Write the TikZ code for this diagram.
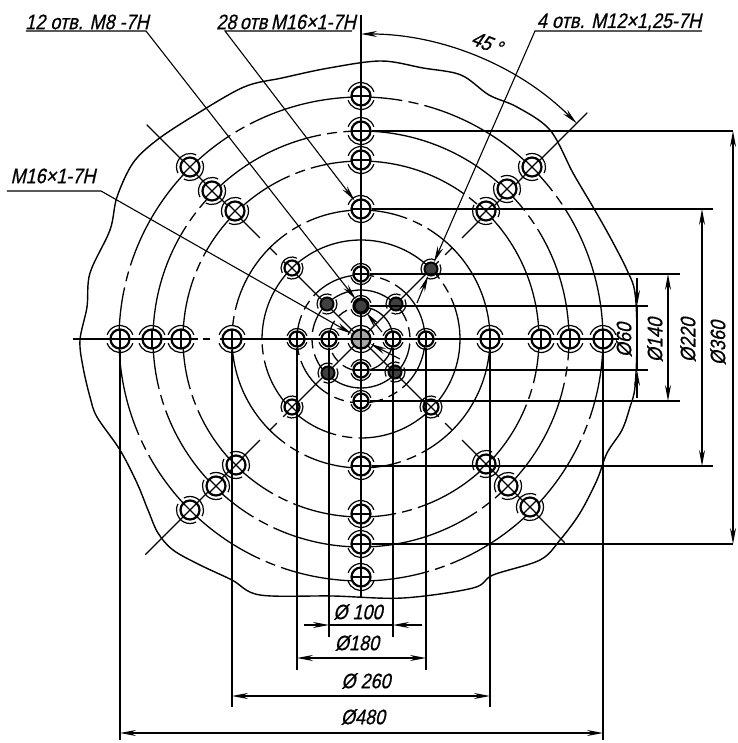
\documentclass[tikz,border=0pt]{standalone}
\usepackage{fontspec}
\newfontfamily\draftfont{Liberation Sans}[FakeSlant=0.22,FakeStretch=0.86,FakeBold=0.6]
\usetikzlibrary{arrows.meta}
\newcommand{\outerring}[3]{%
    \draw[outer-arc] ([shift={(#3+18:#2)}]#1.center) arc[start angle=#3+18,end angle=#3+162,radius=#2];
    \draw[outer-arc] ([shift={(#3+198:#2)}]#1.center) arc[start angle=#3+198,end angle=#3+342,radius=#2];
}
\newcommand{\drawring}[3]{%
    \pgfmathsetmacro{\gapw}{650/#1}
    \pgfmathsetmacro{\dashw}{290/#1}
    \foreach \dashat [remember=\dashat as \prevat (initially #2)] in {#3} {
        \draw[ring-line] (\prevat+\gapw:#1) arc[start angle=\prevat+\gapw,end angle=\dashat-\gapw,radius=#1];
        \draw[ring-line] (\dashat-\dashw:#1) arc[start angle=\dashat-\dashw,end angle=\dashat+\dashw,radius=#1];
    }
}
\begin{document}
\begin{tikzpicture}[
            x=1pt,y=1pt,
            ring-line/.style={line width=1.3pt},
            thin-line/.style={line width=1.2pt},
            outer-arc/.style={line width=1.2pt},
            dim-line/.style={line width=1.2pt,{Stealth[length=16pt,width=6pt]}-{Stealth[length=16pt,width=6pt]}},
            arrow-line/.style={line width=1.1pt,-{Stealth[length=16pt,width=6pt]}},
            dim-label/.style={font=\draftfont\fontsize{21}{21}\selectfont,inner sep=0pt},
            big-hole/.style={circle,draw,line width=2.2pt,fill=white,minimum size=19pt,inner sep=0pt},
            mid-hole/.style={circle,draw,line width=2.2pt,fill=white,minimum size=15pt,inner sep=0pt},
            dark-hole/.style={circle,draw,line width=2pt,fill=black!75,minimum size=13pt,inner sep=0pt},
            plus-mark/.style={path picture={\draw[line width=1.3pt] (path picture bounding box.north) -- (path picture bounding box.south) (path picture bounding box.west) -- (path picture bounding box.east);}},
            cross-mark/.style={path picture={\draw[line width=1.3pt] (path picture bounding box.north west) -- (path picture bounding box.south east) (path picture bounding box.south west) -- (path picture bounding box.north east);}},
        ]
            \useasboundingbox (-361,-404) rectangle (376,339);

            \draw[line width=1.4pt] plot[smooth cycle,tension=.55] coordinates {
                (20,278) (62,271) (100,264) (128,244) (156,232) (189,209) (212,166) (232,132)
                (249,102) (266,69) (274,46) (276,0) (274,-48) (269,-68) (261,-91) (246,-114)
                (236,-141) (219,-174) (199,-201) (179,-221) (132,-236) (112,-249) (42,-259)
                (-28,-257) (-101,-256) (-129,-241) (-161,-226) (-188,-211) (-203,-194) (-213,-171)
                (-224,-144) (-241,-111) (-264,-78) (-271,-58) (-278,-28) (-281,-1) (-274,32)
                (-271,66) (-251,109) (-244,142) (-228,176) (-204,199) (-166,224) (-117,252)
                (-79,261) (-32,271)};

            \drawring{242}{35}{77.5,120,165,206,248,289,338,395}
            \drawring{208}{35}{98,144,197,242,307,351,395}
            \drawring{178}{51}{110,156,200,244,285,342,411}
            \drawring{129}{64}{120,172,239,293,424}
            \drawring{99}{31}{186,262,391}
            \drawring{64}{68}{148,190,250,300,428}
            \drawring{49}{8}{185,368}
            \drawring{32}{125}{215,485}

            \coordinate (axis-top) at (0,324);
            \coordinate (axis-bottom) at (0,-259);
            \coordinate (axis-left) at (-288,0);
            \coordinate (axis-gap-a) at (-163,0);
            \coordinate (axis-gap-b) at (-158,0);
            \coordinate (axis-gap-c) at (-151,0);
            \coordinate (axis-gap-d) at (-141,0);
            \coordinate (axis-right) at (258,0);
            \draw[thin-line] (axis-top) -- (axis-bottom);
            \draw[thin-line] (axis-left) -- (axis-gap-a) (axis-gap-b) -- (axis-gap-c) (axis-gap-d) -- (axis-right);

            \foreach \diagname/\diagangle/\diagend in {ne/45/320,nw/135/303,sw/225/305,se/315/288} {
                \coordinate (\diagname-a) at (\diagangle:110);
                \coordinate (\diagname-b) at (\diagangle:119);
                \coordinate (\diagname-c) at (\diagangle:129);
                \coordinate (\diagname-d) at (\diagangle:143);
                \coordinate (\diagname-e) at (\diagangle:\diagend);
                \draw[thin-line] (0,0) -- (\diagname-a) (\diagname-b) -- (\diagname-c) (\diagname-d) -- (\diagname-e);
            }

            \foreach \hname/\hx/\hy in {v1/0/243,v2/0/208,v3/0/179,v4/0/130,v9/0/-127,v10/0/-175,v11/0/-205,v12/0/-238,
                    h1/-241/0,h2/-209/0,h3/-180/0,h4/-129/0,h9/129/0,h10/180/0,h11/209/0,h12/242/0} {
                \node[big-hole,plus-mark] (\hname) at (\hx,\hy) {};
                \outerring{\hname}{13.5}{0}
            }
            \foreach \hname/\hx/\hy/\hrot in {d1/-171/172/45,d2/-149/148/45,d3/-126/128/45,d4/125/128/-45,d5/146/150/-45,d6/171/172/-45,
                    d7/-125/-126/-45,d8/-145/-147/-45,d9/-171/-171/-45,d10/125/-125/45,d11/147/-147/45,d12/169/-168/45} {
                \node[big-hole,cross-mark] (\hname) at (\hx,\hy) {};
                \outerring{\hname}{13.5}{\hrot}
            }
            \foreach \hname/\hx/\hy in {v5/0/65,v6/0/33,v7/0/-31,v8/0/-62,h5/-64/0,h6/-32/0,h7/32/0,h8/65/0} {
                \node[mid-hole,plus-mark] (\hname) at (\hx,\hy) {};
                \outerring{\hname}{10.5}{0}
            }
            \foreach \hname/\hx/\hy in {m1/-69/71,m2/70/-68,m3/-69/-68} {
                \node[mid-hole,cross-mark] (\hname) at (\hx,\hy) {};
                \outerring{\hname}{11}{45}
            }
            \foreach \hname/\hx/\hy in {s1/-34/35,s2/35/35,s3/-33/-34,s4/34/-33,m4/70/70} {
                \node[dark-hole] (\hname) at (\hx,\hy) {};
                \outerring{\hname}{10}{45}
            }
            \node[big-hole,plus-mark,fill=black!35] (center) at (0,0) {};
            \outerring{center}{13.5}{0}
            \node[dark-hole] (v6-dark) at (v6) {};

            \foreach \hname/\dimname/\dimx/\endx in {v2/top360/372/372,v11/bot360/372/372,v4/top220/341/352,v9/bot220/341/352,
                    v5/top140/307/319,v8/bot140/307/319,v6/top60/276/287,v7/bot60/276/287} {
                \coordinate (\dimname-end) at (\hname.east -| \endx,0);
                \coordinate (\dimname) at (\hname.east -| \dimx,0);
                \draw[thin-line] (\hname.east) -- (\dimname-end);
            }
            \foreach \hname/\dimname/\dimy/\endy in {h1/l480/-394/-401,h12/r480/-394/-401,h4/l260/-357/-368,h9/r260/-357/-368,
                    h5/l180/-319/-331,h8/r180/-319/-331,h6/l100/-286/-298,h7/r100/-286/-298} {
                \coordinate (\dimname-end) at (\hname.south |- 0,\endy);
                \coordinate (\dimname) at (\hname.south |- 0,\dimy);
                \draw[thin-line] (\hname.south) -- (\dimname-end);
            }

            \draw[dim-line] (top360) -- (bot360);
            \draw[dim-line] (top220) -- (bot220);
            \draw[dim-line] (top140) -- (bot140);
            \coordinate (top60-out) at (276,61);
            \coordinate (bot60-out) at (276,-59);
            \draw[arrow-line] (top60-out) -- (top60);
            \draw[arrow-line] (bot60-out) -- (bot60);
            \draw[thin-line] (top60) -- (bot60);
            \draw[dim-line] (l480) -- (r480);
            \draw[dim-line] (l260) -- (r260);
            \draw[dim-line] (l180) -- (r180);
            \coordinate (l100-out) at (-57,-286);
            \coordinate (r100-out) at (61,-286);
            \draw[arrow-line] (l100-out) -- (l100);
            \draw[arrow-line] (r100-out) -- (r100);
            \draw[thin-line] (l100) -- (r100);

            \coordinate (angle-top) at (90:305);
            \draw[dim-line] (angle-top) arc[start angle=90,end angle=45,radius=305];

            \node[dim-label,rotate=90] (d60) at (263,-1) {Ø60};
            \node[dim-label,rotate=90] (d140) at (294,-1) {Ø140};
            \node[dim-label,rotate=90] (d220) at (327,-1) {Ø220};
            \node[dim-label,rotate=90] (d360) at (357,-4) {Ø360};
            \node[dim-label] (d100) at (-3,-273) {Ø 100};
            \node[dim-label] (d180) at (-4,-304) {Ø180};
            \node[dim-label] (d260) at (5,-342) {Ø 260};
            \node[dim-label] (d480) at (2,-378) {Ø480};
            \node[dim-label,rotate=-22] (angle-label) at (126,296) {45\,°};

            \node[dim-label] (lab-twelve) at (-274,317) {12 отв. М8 -7Н};
            \node[dim-label] (lab-twentyeight) at (-75,317) {28\,отв\,М16×1-7Н};
            \node[dim-label] (lab-four) at (258,317) {4 отв. М12×1,25-7Н};
            \node[dim-label] (lab-sixteen) at (-308,163) {М16×1-7Н};

            \coordinate (twelve-a) at (-335,308);
            \coordinate (twelve-b) at (-215,308);
            \coordinate (twentyeight-a) at (-136,308);
            \coordinate (twentyeight-b) at (-9,308);
            \coordinate (four-a) at (174,308);
            \coordinate (four-b) at (341,308);
            \coordinate (sixteen-a) at (-354,148);
            \coordinate (sixteen-b) at (-260,148);
            \draw[arrow-line] (twelve-a) -- (twelve-b) -- (v6);
            \draw[arrow-line] (twentyeight-b) -- (twentyeight-a) -- (v4);
            \draw[arrow-line] (four-b) -- (four-a) -- (m4);
            \draw[arrow-line] (sixteen-a) -- (sixteen-b) -- (center);

            \coordinate (branch-four) at (56,36);
            \coordinate (branch-six) at (21,7);
            \coordinate (branch-center) at (39,-20);
            \draw[arrow-line] (branch-four) -- (m4);
            \draw[arrow-line] (branch-six) -- (v6);
            \draw[arrow-line] (branch-center) -- (center);
        \end{tikzpicture}
\end{document}
